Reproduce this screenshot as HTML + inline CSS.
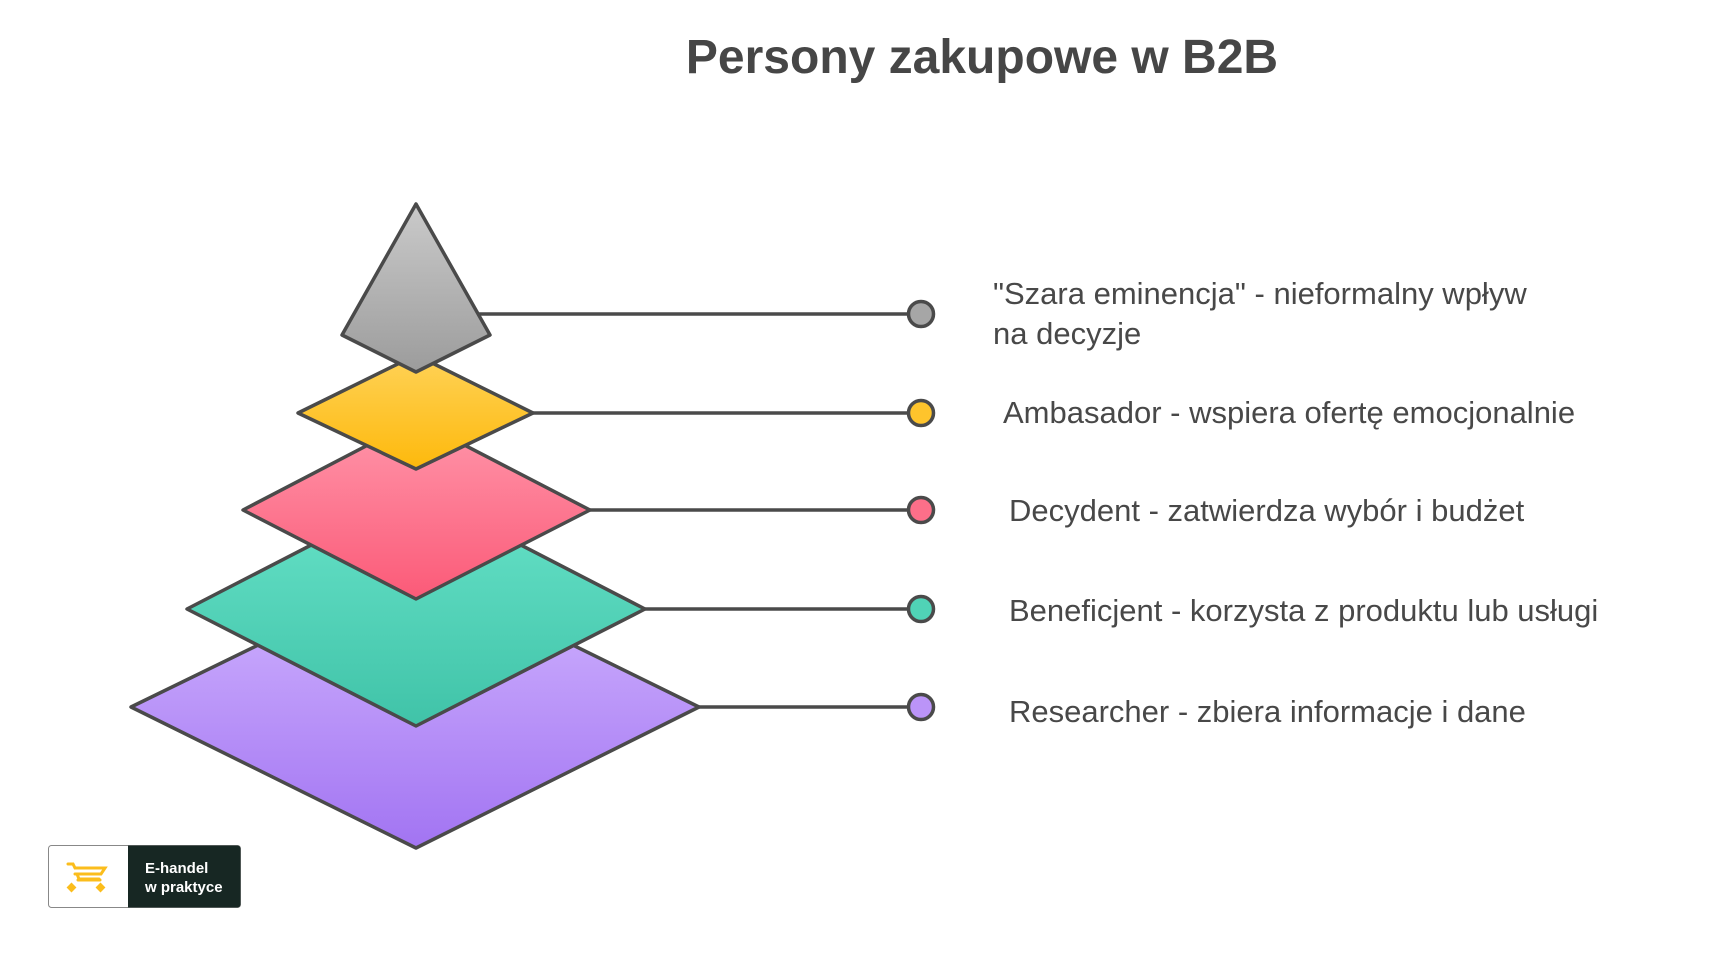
<!DOCTYPE html>
<html><head><meta charset="utf-8"><style>
html,body{margin:0;padding:0;background:#fff;}
body{width:1721px;height:956px;position:relative;overflow:hidden;font-family:"Liberation Sans",sans-serif;}
.t{position:absolute;color:#484848;font-size:31px;white-space:nowrap;line-height:40px;}
</style></head><body>
<svg width="1721" height="956" style="position:absolute;left:0;top:0">
<defs>
<linearGradient id="gp" x1="0" y1="0" x2="0" y2="1"><stop offset="0" stop-color="#d2b6ff"/><stop offset="1" stop-color="#a274f2"/></linearGradient>
<linearGradient id="gt" x1="0" y1="0" x2="0" y2="1"><stop offset="0" stop-color="#68e3c9"/><stop offset="1" stop-color="#40c3a8"/></linearGradient>
<linearGradient id="gr" x1="0" y1="0" x2="0" y2="1"><stop offset="0" stop-color="#ff96aa"/><stop offset="1" stop-color="#fb5a78"/></linearGradient>
<linearGradient id="gy" x1="0" y1="0" x2="0" y2="1"><stop offset="0" stop-color="#ffd257"/><stop offset="1" stop-color="#fdb90c"/></linearGradient>
<linearGradient id="gg" x1="0" y1="0" x2="0" y2="1"><stop offset="0" stop-color="#cacaca"/><stop offset="1" stop-color="#9c9c9c"/></linearGradient>
</defs>
<g stroke="#4a4a4a" stroke-width="3.5" stroke-linejoin="round">
<line x1="699" y1="707" x2="909" y2="707"/>
<line x1="645" y1="609" x2="909" y2="609"/>
<line x1="590" y1="510" x2="909" y2="510"/>
<line x1="533" y1="413" x2="909" y2="413"/>
<line x1="477" y1="314" x2="909" y2="314"/>
<polygon points="131,707 416,568 699,707 416,848" fill="url(#gp)"/>
<polygon points="187,609 416,491 645,609 416,726" fill="url(#gt)"/>
<polygon points="243,510 416,420 590,510 416,599" fill="url(#gr)"/>
<polygon points="298,413 416,355 533,413 416,469" fill="url(#gy)"/>
<polygon points="416,204 490,335 416,372 342,335" fill="url(#gg)"/>
<circle cx="921" cy="314" r="12.5" fill="#a6a6a6"/>
<circle cx="921" cy="413" r="12.5" fill="#fec42c"/>
<circle cx="921" cy="510" r="12.5" fill="#fc6f89"/>
<circle cx="921" cy="609" r="12.5" fill="#50d3b6"/>
<circle cx="921" cy="707" r="12.5" fill="#bb94f8"/>
</g>
<rect x="48.5" y="845.5" width="192" height="62" rx="3" fill="#fff" stroke="#888" stroke-width="1"/>
<path d="M128 845.5 H237.5 a3 3 0 0 1 3 3 V904.5 a3 3 0 0 1 -3 3 H128 Z" fill="#172723"/>
<g fill="none" stroke="#fbbd1c" stroke-width="3" stroke-linecap="round">
<path d="M68 864 h5 l2 4 h30 l-4 6 h-26 M77 874 l2 5 h20"/>
<path d="M78 880 h22"/>
</g>
<g fill="#fbbd1c"><rect x="68" y="884" width="7" height="7" transform="rotate(45 71.5 887.5)"/><rect x="97" y="884" width="7" height="7" transform="rotate(45 100.5 887.5)"/></g>
<text x="145" y="873" fill="#fff" font-family="Liberation Sans,sans-serif" font-weight="bold" font-size="15">E-handel</text>
<text x="145" y="892" fill="#fff" font-family="Liberation Sans,sans-serif" font-weight="bold" font-size="15">w praktyce</text>
</svg>
<div style="position:absolute;left:0;width:1964px;top:30px;text-align:center;font-size:48px;font-weight:bold;color:#464646;line-height:56px;">Persony zakupowe w B2B</div>
<div class="t" style="left:993px;top:274px;">"Szara eminencja" - nieformalny wpływ</div>
<div class="t" style="left:993px;top:314px;">na decyzje</div>
<div class="t" style="left:1003px;top:393px;">Ambasador - wspiera ofertę emocjonalnie</div>
<div class="t" style="left:1009px;top:491px;">Decydent - zatwierdza wybór i budżet</div>
<div class="t" style="left:1009px;top:591px;">Beneficjent - korzysta z produktu lub usługi</div>
<div class="t" style="left:1009px;top:692px;">Researcher - zbiera informacje i dane</div>
</body></html>
